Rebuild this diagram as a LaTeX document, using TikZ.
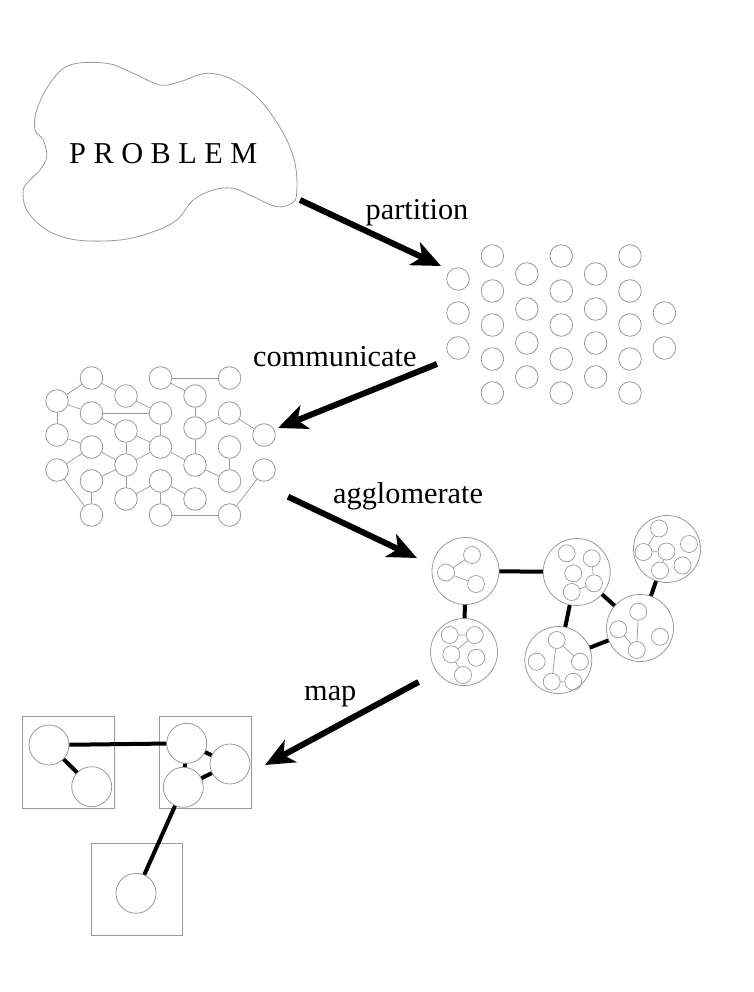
\documentclass[tikz,border=0pt]{standalone}
\usepackage{fontspec}
\setmainfont{Liberation Serif}
\usetikzlibrary{arrows.meta}
\definecolor{lg}{gray}{0.6}
\begin{document}
\begin{tikzpicture}[x=1pt,y=-1pt,
  pc/.style={circle,draw=lg,line width=0.8pt,minimum size=22.6pt,inner sep=0pt},
  ic/.style={circle,draw=lg,line width=0.7pt,minimum size=17pt,inner sep=0pt},
  bc/.style={circle,draw=lg,line width=0.8pt,minimum size=67pt,inner sep=0pt},
  mc/.style={circle,draw=lg,line width=0.8pt,minimum size=40pt,inner sep=0pt},
  boxc/.style={draw=lg,line width=0.8pt},
  thinedge/.style={draw=lg,line width=0.7pt},
  thickedge/.style={draw=black,line width=4pt},
  bigarrow/.style={draw=black,line width=6pt,-{Stealth[length=29pt,width=25pt,inset=8pt]}},
  lbl/.style={anchor=base west,inner sep=0pt,font=\fontsize{30.3}{31}\selectfont}]
\useasboundingbox (0,0) rectangle (754,992);

% ---------- problem blob ----------
\draw[lg,line width=0.8pt] plot[smooth cycle,tension=0.6] coordinates {
 (70,65) (106.7,63.3) (133.3,73.3) (160,85) (180,81.7) (206.7,73.3) (233.3,80)
 (260,100) (283.3,133.3) (295,163.3) (296.7,193.3) (292,203) (276.7,206.7)
 (253.3,196.7) (233.3,188.3) (213.3,190) (193.3,200) (176.7,220) (153.3,231.7)
 (120,240) (76.7,240) (46.7,230) (26.7,210) (23.3,190) (30,180) (40,170)
 (46.7,156.7) (43.3,140) (35,130) (36.7,110) (50,83.3)};
\node[lbl] (problem) at (69,163.3) {P\hspace{7.5pt}R\hspace{7.5pt}O\hspace{7.5pt}B\hspace{7.5pt}L\hspace{7.5pt}E\hspace{7.5pt}M};

% ---------- partition grid ----------
\foreach \y [count=\i] in {279,313,348} {\node[pc] (p1-\i) at (458,\y) {};}
\foreach \x/\c in {492.4/2,561.2/4,630/6} {
  \foreach \y [count=\i] in {256,291,325,359,393} {\node[pc] (p\c-\i) at (\x,\y) {};}}
\foreach \x/\c in {526.8/3,595.6/5} {
  \foreach \y [count=\i] in {274,309,343,377} {\node[pc] (p\c-\i) at (\x,\y) {};}}
\foreach \y [count=\i] in {313,348} {\node[pc] (p7-\i) at (664.4,\y) {};}

% ---------- communicate graph ----------
\node[pc] (cD) at (57,401) {};
\node[pc] (cJ) at (57,435) {};
\node[pc] (cQ) at (57,470) {};
\node[pc] (cA) at (91.5,378) {};
\node[pc] (cG) at (91.5,413) {};
\node[pc] (cN) at (91.5,447) {};
\node[pc] (cU) at (91.5,481) {};
\node[pc] (cZ) at (91.5,515) {};
\node[pc] (cE) at (126,396) {};
\node[pc] (cK) at (126,431) {};
\node[pc] (cR) at (126,465) {};
\node[pc] (cX) at (126,499) {};
\node[pc] (cB) at (160.5,378) {};
\node[pc] (cH) at (160.5,413) {};
\node[pc] (cO) at (160.5,447) {};
\node[pc] (cV) at (160.5,481) {};
\node[pc] (cAA) at (160.5,515) {};
\node[pc] (cF) at (195,396) {};
\node[pc] (cL) at (195,428) {};
\node[pc] (cS) at (195,465) {};
\node[pc] (cY) at (195,499) {};
\node[pc] (cC) at (229.5,378) {};
\node[pc] (cI) at (229.5,413) {};
\node[pc] (cP) at (229.5,447) {};
\node[pc] (cW) at (229.5,481) {};
\node[pc] (cAB) at (229.5,515) {};
\node[pc] (cM) at (264,435) {};
\node[pc] (cT) at (264,470) {};
\foreach \a/\b in {cA/cD,cA/cE,cB/cC,cB/cF,cD/cG,cD/cJ,cG/cH,cG/cK,cE/cH,cF/cL,
  cH/cO,cI/cL,cI/cM,cJ/cN,cK/cO,cK/cR,cN/cR,cN/cQ,cL/cS,cO/cR,cO/cS,cP/cW,cS/cW,
  cQ/cZ,cT/cAB,cR/cX,cU/cR,cU/cZ,cX/cV,cV/cY,cV/cAA,cAA/cAB}
  {\draw[thinedge] (\a) -- (\b);}

% ---------- agglomerate ----------
\node[bc] (g1) at (465.5,571) {};
\node[ic] (g1a) at (472,555) {};
\node[ic] (g1b) at (446,572.5) {};
\node[ic] (g1c) at (476,584) {};
\draw[thinedge] (g1a) -- (g1b) (g1b) -- (g1c);

\node[bc] (g2) at (464,652) {};
\node[ic] (g2a) at (449.7,635) {};
\node[ic] (g2b) at (474.7,635) {};
\node[ic] (g2c) at (451.3,654.3) {};
\node[ic] (g2d) at (476.3,657.7) {};
\node[ic] (g2e) at (463,675) {};
\draw[thinedge] (g2a) -- (g2b) (g2b) -- (g2c) (g2c) -- (g2e);

\node[bc] (g3) at (576.7,572) {};
\node[ic] (g3a) at (566.7,553.3) {};
\node[ic] (g3b) at (591.7,558.3) {};
\node[ic] (g3c) at (573.3,573.3) {};
\node[ic] (g3d) at (594,583.3) {};
\node[ic] (g3e) at (571.7,592) {};
\draw[thinedge] (g3b) -- (g3d) (g3d) -- (g3e);

\node[bc] (g4) at (667,549) {};
\node[ic] (g4a) at (659,528.5) {};
\node[ic] (g4b) at (643.5,552) {};
\node[ic] (g4c) at (666.5,551.5) {};
\node[ic] (g4d) at (689,544) {};
\node[ic] (g4e) at (660,570.5) {};
\node[ic] (g4f) at (682.5,565.5) {};
\draw[thinedge] (g4a) -- (g4b) (g4b) -- (g4c) (g4c) -- (g4e);

\node[bc] (g5) at (640,628) {};
\node[ic] (g5a) at (638.3,611.7) {};
\node[ic] (g5b) at (618.3,629.3) {};
\node[ic] (g5c) at (660,636.7) {};
\node[ic] (g5d) at (636.7,650) {};
\draw[thinedge] (g5a) -- (g5d) (g5b) -- (g5d);

\node[bc] (g6) at (558.3,660) {};
\node[ic] (g6a) at (556.7,640) {};
\node[ic] (g6b) at (536.7,661.7) {};
\node[ic] (g6c) at (580,661.7) {};
\node[ic] (g6d) at (551.7,681.7) {};
\node[ic] (g6e) at (573.3,681.7) {};
\draw[thinedge] (g6a) -- (g6d) (g6a) -- (g6c) (g6d) -- (g6e);

\foreach \a/\b in {g1/g3,g1/g2,g3/g5,g3/g6,g4/g5,g5/g6}
  {\draw[thickedge] (\a) -- (\b);}

% ---------- map ----------
\node[boxc,minimum width=91.7pt,minimum height=91.7pt,inner sep=0pt] (m1) at (68.2,762.5) {};
\node[boxc,minimum width=92pt,minimum height=91.7pt,inner sep=0pt] (m2) at (205.3,762.5) {};
\node[boxc,minimum width=91.3pt,minimum height=91.7pt,inner sep=0pt] (m3) at (136.7,889.2) {};
\node[mc] (m1a) at (49,745) {};
\node[mc] (m1b) at (91.7,786.7) {};
\node[mc] (m2a) at (186.7,743.3) {};
\node[mc] (m2b) at (230,764) {};
\node[mc] (m2c) at (183.3,787.3) {};
\node[mc] (m3a) at (136,893.3) {};
\foreach \a/\b in {m1a/m2a,m1a/m1b,m2a/m2b,m2a/m2c,m2b/m2c,m2c/m3a}
  {\draw[thickedge] (\a) -- (\b);}

% ---------- arrows and labels ----------
\coordinate (a1s) at (300,200);  \coordinate (a1e) at (441,266);
\coordinate (a2s) at (437,364);  \coordinate (a2e) at (278,428);
\coordinate (a3s) at (288,496.7); \coordinate (a3e) at (417,558);
\coordinate (a4s) at (418.5,682); \coordinate (a4e) at (265,765);
\draw[bigarrow] (a1s) -- (a1e);
\draw[bigarrow] (a2s) -- (a2e);
\draw[bigarrow] (a3s) -- (a3e);
\draw[bigarrow] (a4s) -- (a4e);
\node[lbl] (lpart) at (365.5,219) {partition};
\node[lbl] (lcomm) at (253,366.5) {communicate};
\node[lbl] (lagg) at (333,503) {agglomerate};
\node[lbl] (lmap) at (304,700) {map};
\end{tikzpicture}
\end{document}
